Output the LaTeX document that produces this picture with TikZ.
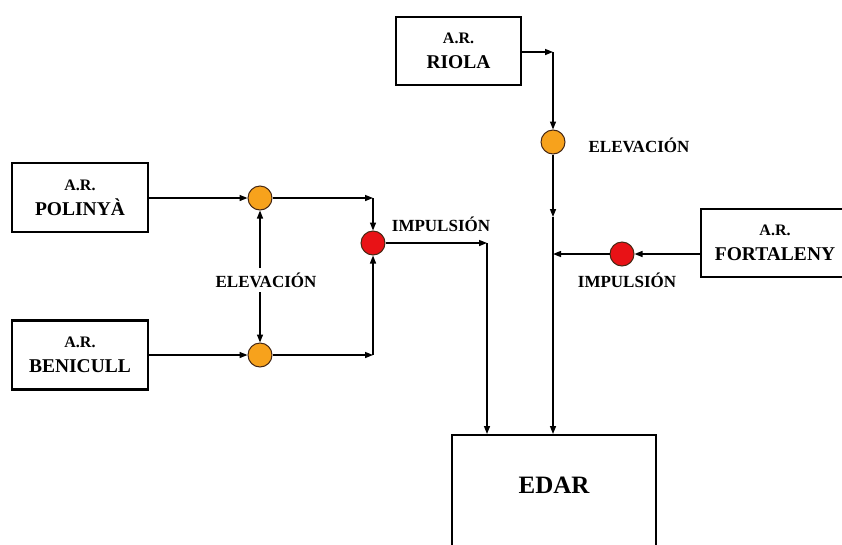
\documentclass[tikz,border=0pt]{standalone}
\usepackage{fontspec}
\setmainfont{Liberation Serif}
\usetikzlibrary{arrows.meta}
\definecolor{orangefill}{RGB}{247,162,28}
\definecolor{redfill}{RGB}{232,18,22}
\definecolor{ringline}{RGB}{70,40,20}
\tikzset{
  box/.style={draw=black, line width=2.2pt, minimum width=136pt, minimum height=69pt, align=center, inner sep=0pt,
    font=\bfseries\fontsize{19.5}{25}\selectfont},
  orangept/.style={circle, fill=orangefill, draw=ringline, line width=1pt, minimum size=24pt, inner sep=0pt},
  redpt/.style={circle, fill=redfill, draw=ringline, line width=1pt, minimum size=24pt, inner sep=0pt},
  lbl/.style={font=\bfseries\fontsize{17}{19}\selectfont, inner sep=1pt},
  flow/.style={line width=1.4pt, -{Triangle[length=8pt,width=6pt]}},
}
\newcommand{\ar}{{\fontsize{16}{25}\selectfont A.R.}}
\begin{document}
\begin{tikzpicture}[x=1pt,y=-1pt]
\useasboundingbox (0,0) rectangle (842,544);
\clip (0,0) rectangle (842,544);
% boxes
\node[box] (polinya) at (80,197.5) {\ar\\POLINYÀ};
\node[box] (benicull) at (80,355) {\ar\\BENICULL};
\node[box, minimum width=125pt, minimum height=68pt] (riola) at (458.5,51) {\ar\\RIOLA};
\node[box, minimum width=148pt, minimum height=68pt] (fortaleny) at (775,243) {\ar\\FORTALENY};
\node[draw=black, line width=2.2pt, minimum width=204pt, minimum height=160pt, anchor=north] (edar) at (554,434) {};
\node[font=\bfseries\fontsize{25}{30}\selectfont] (edarlabel) at (554,485) {EDAR};
% pumps
\node[orangept] (o1) at (260,198) {};
\node[orangept] (o2) at (260,355) {};
\node[redpt] (r1) at (373,243) {};
\node[orangept] (o3) at (553,142) {};
\node[redpt] (r2) at (622,254) {};
% labels
\node[lbl] (elev1) at (266,280) {ELEVACIÓN};
\node[lbl] (elev2) at (639,145) {ELEVACIÓN};
\node[lbl] (imp1) at (441,224) {IMPULSIÓN};
\node[lbl] (imp2) at (627,280) {IMPULSIÓN};
% corner coordinates
\coordinate (c1) at (373,198);
\coordinate (c2) at (373,355);
\coordinate (c3) at (487,243);
\coordinate (e1) at (487,434);
\coordinate (c4) at (553,52);
\coordinate (c5) at (553,217);
\coordinate (e2) at (553,434);
\coordinate (c6) at (553,254);
\coordinate (v1) at (260,268);
\coordinate (v2) at (260,292);
% connectors
\draw[flow] (polinya.east |- o1) -- (o1.west);
\draw[flow] (o1.east) -- (c1);
\draw[flow] (c1) -- (r1.north);
\draw[flow] (benicull.east |- o2) -- (o2.west);
\draw[flow] (o2.east) -- (c2);
\draw[flow] (c2) -- (r1.south);
\draw[flow] (v1) -- (o1.south);
\draw[flow] (v2) -- (o2.north);
\draw[flow] (r1.east) -- (c3);
\draw[flow] (c3) -- (e1);
\draw[flow] (riola.east |- c4) -- (c4);
\draw[flow] (c4) -- (o3.north);
\draw[flow] (o3.south) -- (c5);
\draw[flow] (c5) -- (e2);
\draw[flow] (fortaleny.west |- r2) -- (r2.east);
\draw[flow] (r2.west) -- (c6);
\end{tikzpicture}
\end{document}
